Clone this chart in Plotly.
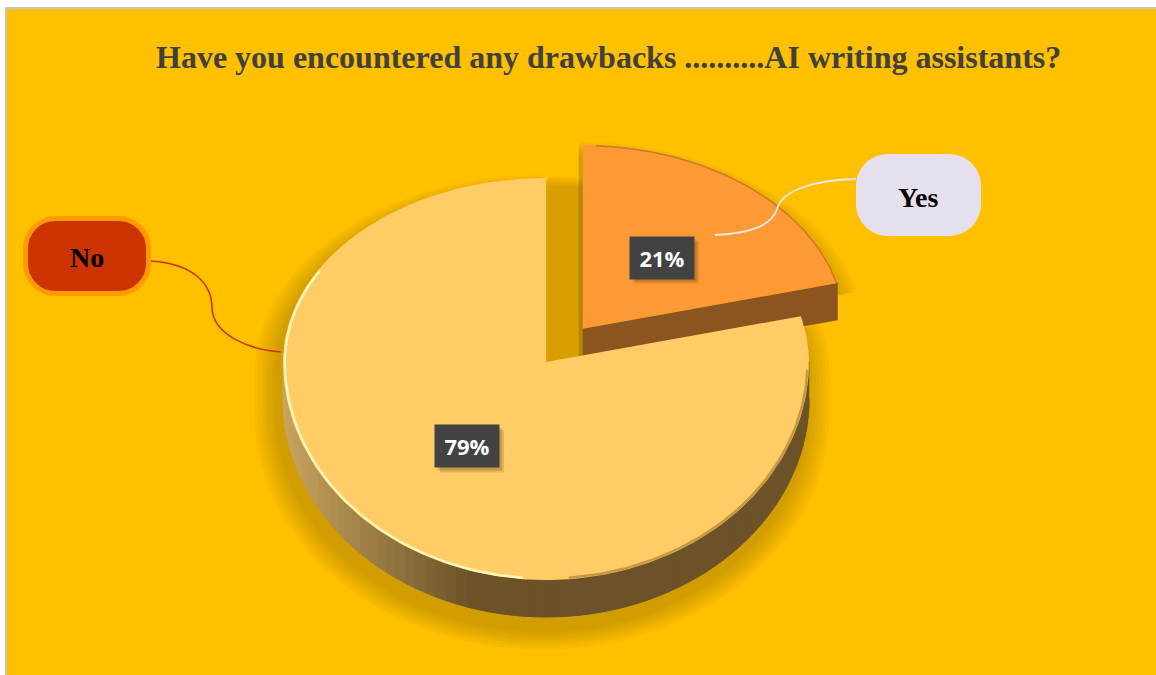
import numpy as np
import plotly.graph_objects as go

# ---- data ----
labels = ["Yes", "No"]
values = [21, 79]
title_text = "Have you encountered any drawbacks ..........AI writing assistants?"

# ---- styling ----
top_colors = {"Yes": "#FD9A33", "No": "#FFCC66"}
side_colors = {"Yes": "#8B5520", "No": "#6B5229"}
BG = "#FFC000"

W, H = 1156, 675
CX, CY = 546, 362          # pie apex on the page
RX, RYT, RYB = 263, 184, 218  # tilted-disc radii (back / front)
DEPTH = 37
EXPLODE = {"Yes": 60, "No": 0}
LABEL_R = 0.49


def rim(cx, cy, th):
    """Point on the tilted disc rim; th is clockwise from 12 o'clock (rad)."""
    th = np.asarray(th, dtype=float)
    ry = np.where(np.cos(th) > 0, RYT, RYB)
    return cx + RX * np.sin(th), cy - ry * np.cos(th)


total = float(sum(values))
fracs = [v / total for v in values]
bounds = np.concatenate([[0.0], np.cumsum(fracs)]) * 2 * np.pi

slices = []
for i, lab in enumerate(labels):
    t0, t1 = bounds[i], bounds[i + 1]
    mid = 0.5 * (t0 + t1)
    e = EXPLODE[lab]
    dx = e * np.sin(mid)
    dy = -e * np.cos(mid) * RYT / RX
    slices.append(dict(label=lab, t0=t0, t1=t1, mid=mid, cx=CX + dx, cy=CY + dy,
                       frac=fracs[i]))

fig = go.Figure()


def poly(xs, ys, fill, line=None, width=0):
    fig.add_trace(go.Scatter(
        x=list(xs), y=list(ys), mode="lines", fill="toself", fillcolor=fill,
        line=dict(color=line or fill, width=width), hoverinfo="skip",
        showlegend=False))


def silhouette(s):
    th = np.linspace(s["t0"], s["t1"], 120)
    x, y = rim(s["cx"], s["cy"], th)
    y = y + np.where(np.cos(th) < 0, DEPTH, 0)
    xs = np.concatenate([[s["cx"]], x, [s["cx"]]])
    ys = np.concatenate([[s["cy"] + DEPTH * 0.5], y, [s["cy"] + DEPTH * 0.5]])
    return xs, ys


# ---- soft cast shadows ----
for s in slices:
    xs, ys = silhouette(s)
    for k in range(7, 0, -1):
        gx = 1 + 3.5 * k / RX
        gy = 1 + 2.5 * k / RYB
        poly(s["cx"] + (xs - s["cx"]) * gx - 4,
             s["cy"] + 12 + (ys - s["cy"]) * gy,
             "rgba(90,60,0,0.045)")
    if s["label"] == "Yes":
        # shadow thrown into the gap between the two slices
        for k in range(5, 0, -1):
            poly(xs - 34 - k, ys + 30 + 2 * k, "rgba(90,60,0,0.05)")

# ---- slices: sides then tops ----
for s in slices:
    lab = s["label"]
    cx, cy = s["cx"], s["cy"]
    t0, t1 = s["t0"], s["t1"]

    # cut face at the slice end (visible for the exploded slice)
    if lab == "Yes":
        ex, ey = rim(cx, cy, t1)
        poly([cx, ex, ex, cx], [cy, ey, ey + DEPTH, cy + DEPTH],
             side_colors[lab], width=0.5)

    # outer wall for the front half of the disc
    a = max(t0, np.pi / 2)
    b = min(t1, 3 * np.pi / 2)
    if b > a:
        edges = np.linspace(a, b, 73)
        for j in range(len(edges) - 1):
            xa, ya = rim(cx, cy, edges[j])
            xb, yb = rim(cx, cy, edges[j + 1])
            xm = 0.5 * (xa + xb)
            f = np.clip((xm - 285) / (470 - 285), 0, 1)
            c0 = np.array([201, 164, 96])
            c1 = np.array([107, 82, 41])
            c = (c0 * (1 - f) + c1 * f).astype(int)
            col = f"rgb({c[0]},{c[1]},{c[2]})"
            poly([xa, xb, xb, xa], [ya, yb, yb + DEPTH, ya + DEPTH], col,
                 width=1)

    # top face
    th = np.linspace(t0, t1, 200)
    x, y = rim(cx, cy, th)
    poly(np.concatenate([[cx], x, [cx]]), np.concatenate([[cy], y, [cy]]),
         top_colors[lab], width=0)

    if lab == "No":
        # bevel highlight along the lower-left rim and darker right rim
        th = np.linspace(np.radians(185), np.radians(300), 80)
        x, y = rim(cx, cy, th)
        fig.add_trace(go.Scatter(x=x - 1.8 * np.sin(th), y=y + 1.5 * np.cos(th),
                                 mode="lines", line=dict(color="rgba(255,248,190,0.95)", width=2.5),
                                 hoverinfo="skip", showlegend=False))
        th = np.linspace(np.radians(92), np.radians(175), 80)
        x, y = rim(cx, cy, th)
        fig.add_trace(go.Scatter(x=x - 1.5 * np.sin(th), y=y + 1.5 * np.cos(th),
                                 mode="lines", line=dict(color="rgba(150,110,40,0.55)", width=2.5),
                                 hoverinfo="skip", showlegend=False))
    else:
        th = np.linspace(t0 + 0.05, t1, 60)
        x, y = rim(cx, cy, th)
        fig.add_trace(go.Scatter(x=x - 0.8 * np.sin(th), y=y + 0.8 * np.cos(th),
                                 mode="lines", line=dict(color="rgba(170,100,30,0.6)", width=1.5),
                                 hoverinfo="skip", showlegend=False))

# ---- percentage labels ----
shapes = [dict(type="rect", layer="below", x0=6, y0=8, x1=W + 10, y1=H + 10,
               fillcolor=BG, line=dict(color="#C4C4C4", width=2))]
annotations = []
for s in slices:
    lx, ly = rim(s["cx"], s["cy"], s["mid"])
    lx = s["cx"] + LABEL_R * (lx - s["cx"])
    ly = s["cy"] + LABEL_R * (ly - s["cy"])
    lx, ly = float(lx), float(ly)
    for k, a in ((3, 0.18), (5, 0.14)):
        shapes.append(dict(type="rect", x0=lx - 32 + k, x1=lx + 32 + k,
                           y0=ly - 21 + k, y1=ly + 21 + k,
                           fillcolor=f"rgba(60,40,0,{a})", line=dict(width=0)))
    annotations.append(dict(
        x=lx, y=ly, xref="x", yref="y", showarrow=False,
        text=f"<b>{round(s['frac'] * 100)}%</b>",
        font=dict(family="Open Sans", size=22, color="white"),
        bgcolor="#424242", width=64, height=42, borderpad=0))


def pill(x0, y0, x1, y1, r):
    k = 0.5523 * r
    return (f"M {x0 + r} {y0} L {x1 - r} {y0} "
            f"C {x1 - r + k} {y0}, {x1} {y0 + r - k}, {x1} {y0 + r} "
            f"L {x1} {y1 - r} "
            f"C {x1} {y1 - r + k}, {x1 - r + k} {y1}, {x1 - r} {y1} "
            f"L {x0 + r} {y1} "
            f"C {x0 + r - k} {y1}, {x0} {y1 - r + k}, {x0} {y1 - r} "
            f"L {x0} {y0 + r} "
            f"C {x0} {y0 + r - k}, {x0 + r - k} {y0}, {x0 + r} {y0} Z")


# ---- category callouts ----
shapes += [
    dict(type="path", path="M 151 261 C 195 264, 212 285, 212 308 C 213 335, 250 350, 281 352",
         line=dict(color="#CC3300", width=1.6)),
    dict(type="path", path=pill(25.5, 218.5, 148.5, 293.5, 30),
         fillcolor="#CC3300", line=dict(color="#FF9900", width=5)),
    dict(type="path", path="M 715 235 C 755 233, 772 224, 777 209 C 783 188, 820 180, 856 179",
         line=dict(color="#EAE6F0", width=1.8)),
    dict(type="path", path=pill(856, 154, 981, 236, 32),
         fillcolor="#E6E0EC", line=dict(width=0)),
]
annotations += [
    dict(x=87, y=257, xref="x", yref="y", showarrow=False, text="<b>No</b>",
         font=dict(family="Liberation Serif", size=28, color="black")),
    dict(x=918, y=197, xref="x", yref="y", showarrow=False, text="<b>Yes</b>",
         font=dict(family="Liberation Serif", size=28, color="black")),
    dict(x=608, y=57, xref="x", yref="y", showarrow=False, text=f"<b>{title_text}</b>",
         font=dict(family="Liberation Serif", size=32, color="#404040")),
]

fig.update_layout(
    width=W, height=H, margin=dict(l=0, r=0, t=0, b=0),
    paper_bgcolor="white", plot_bgcolor="white",
    xaxis=dict(range=[0, W], visible=False, fixedrange=True),
    yaxis=dict(range=[H, 0], visible=False, fixedrange=True),
    shapes=shapes, annotations=annotations, showlegend=False,
)

fig.write_html("out.html", config={"displayModeBar": False})
